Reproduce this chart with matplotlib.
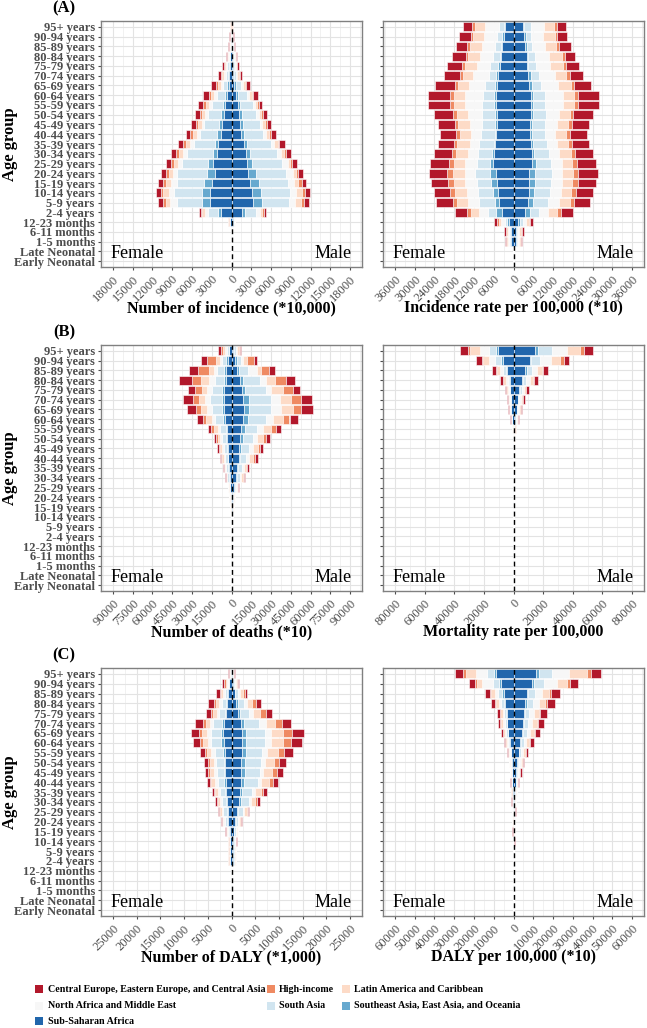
import numpy as np
import matplotlib.pyplot as plt
from matplotlib.patches import Rectangle

plt.rcParams['font.family'] = ['Liberation Serif', 'DejaVu Serif']

ages = ['95+ years', '90-94 years', '85-89 years', '80-84 years', '75-79 years',
        '70-74 years', '65-69 years', '60-64 years', '55-59 years', '50-54 years',
        '45-49 years', '40-44 years', '35-39 years', '30-34 years', '25-29 years',
        '20-24 years', '15-19 years', '10-14 years', '5-9 years', '2-4 years',
        '12-23 months', '6-11 months', '1-5 months', 'Late Neonatal', 'Early Neonatal']

# stacking order: from the centre line outwards
regions = ['Sub-Saharan Africa', 'Southeast Asia, East Asia, and Oceania', 'South Asia',
           'North Africa and Middle East', 'Latin America and Caribbean', 'High-income',
           'Central Europe, Eastern Europe, and Central Asia']
colors = ['#2166AC', '#67A9CF', '#D1E5F0', '#F7F7F7', '#FDDBC7', '#EF8A62', '#B2182B']

# ---- (A) number of incidence (*10,000) ----
inc_num_f = [[40, 20, 40, 20, 20, 20, 40], [60, 20, 60, 40, 50, 30, 90],
             [100, 30, 90, 50, 70, 40, 120], [200, 60, 170, 80, 120, 70, 200],
             [300, 100, 280, 130, 170, 110, 280], [400, 130, 350, 200, 300, 200, 520],
             [450, 200, 600, 350, 500, 250, 800], [750, 300, 1100, 450, 500, 300, 950],
             [950, 300, 1750, 400, 500, 350, 800], [1100, 450, 1950, 450, 500, 300, 750],
             [1400, 450, 2250, 450, 550, 300, 750], [1650, 500, 2600, 500, 650, 350, 700],
             [2000, 500, 3250, 500, 700, 400, 750], [2250, 600, 3900, 600, 600, 400, 800],
             [2750, 750, 4000, 650, 650, 400, 800], [2500, 1250, 4500, 650, 650, 400, 750],
             [2900, 1250, 4100, 1000, 700, 400, 750], [3200, 1320, 4150, 760, 900, 350, 800],
             [3300, 1250, 3650, 1100, 700, 400, 750], [1600, 400, 1500, 500, 450, 200, 350],
             [200, 50, 100, 50, 40, 20, 40], [60, 15, 30, 15, 10, 10, 10],
             [20, 5, 10, 5, 4, 2, 4], [5, 1, 3, 1, 1, 1, 1], [3, 1, 2, 1, 1, 0, 1]]
inc_num_m = [[40, 20, 40, 20, 30, 20, 30], [60, 20, 60, 40, 60, 30, 80],
             [120, 30, 100, 60, 90, 50, 150], [180, 60, 160, 80, 130, 70, 180],
             [250, 80, 220, 100, 170, 90, 200], [300, 120, 300, 150, 230, 120, 300],
             [400, 250, 750, 350, 350, 150, 500], [750, 250, 1350, 350, 350, 200, 800],
             [1050, 300, 1900, 300, 350, 200, 600], [1150, 400, 2200, 400, 400, 200, 650],
             [1250, 500, 2500, 400, 450, 250, 700], [1450, 500, 2800, 500, 500, 300, 750],
             [1850, 500, 3650, 500, 500, 250, 800], [2150, 600, 4100, 650, 400, 350, 800],
             [2350, 800, 4500, 850, 350, 400, 700], [2500, 1250, 4500, 1100, 500, 300, 650],
             [2850, 1300, 4350, 1000, 650, 500, 600], [3100, 1400, 4300, 1000, 850, 500, 750],
             [3250, 1400, 4000, 1050, 850, 400, 750], [1650, 400, 1700, 500, 400, 250, 400],
             [250, 60, 120, 50, 50, 20, 50], [60, 15, 30, 15, 10, 10, 10],
             [20, 5, 10, 5, 4, 2, 4], [5, 1, 3, 1, 1, 1, 1], [3, 1, 2, 1, 1, 0, 1]]

# ---- (A) incidence rate per 100,000 (*10) ----
inc_rate_f = [[2700, 300, 1400, 4300, 2900, 1000, 2800], [3000, 400, 1500, 4100, 3200, 800, 3400],
              [3400, 500, 1700, 3900, 3700, 800, 3300], [3700, 500, 2000, 4000, 3600, 700, 4200],
              [4000, 700, 2300, 4200, 3500, 800, 4800], [4600, 600, 2200, 4800, 3000, 1000, 5000],
              [4900, 800, 3000, 4700, 3500, 800, 6000], [5200, 700, 3500, 5300, 3500, 1200, 6600],
              [5200, 700, 3700, 5100, 3500, 1200, 6600], [5000, 700, 3900, 4100, 3500, 1200, 5600],
              [5000, 500, 4200, 3500, 3500, 1000, 5200], [5200, 500, 4300, 3000, 3200, 1200, 5000],
              [5500, 500, 4400, 2800, 3800, 1200, 4800], [5900, 600, 4200, 3000, 3700, 1300, 5300],
              [6200, 1000, 4000, 3500, 3500, 1500, 5500], [5200, 1800, 4700, 3000, 3800, 1700, 5300],
              [5000, 1700, 4500, 3500, 3500, 1700, 5100], [4700, 1500, 4700, 3300, 3500, 1500, 4800],
              [4400, 1300, 4700, 3300, 3500, 1200, 5000], [3600, 1600, 2500, 2700, 2600, 1200, 3700],
              [1400, 600, 700, 1000, 800, 400, 1000], [700, 300, 400, 400, 400, 200, 600],
              [700, 300, 400, 400, 300, 100, 400], [60, 20, 30, 30, 30, 10, 40],
              [40, 10, 20, 20, 20, 10, 30]]
inc_rate_m = [[2800, 500, 2000, 4000, 3000, 1000, 2700], [3300, 500, 1500, 3800, 3500, 700, 3000],
              [3500, 500, 1700, 4000, 3300, 800, 3500], [4000, 500, 2100, 4200, 4000, 800, 3000],
              [4000, 500, 2200, 4500, 3800, 800, 4000], [4500, 700, 2500, 4800, 3500, 1000, 4000],
              [4800, 800, 2800, 5200, 3700, 1000, 5300], [5200, 800, 3500, 5500, 3500, 1200, 6300],
              [5200, 800, 3500, 5500, 3500, 1200, 6300], [5200, 800, 3800, 4000, 3200, 1200, 5800],
              [5000, 700, 4000, 3500, 3200, 1200, 5200], [5000, 500, 4200, 3000, 3200, 1200, 5200],
              [5300, 600, 4400, 2800, 3500, 1200, 5200], [5500, 800, 4500, 3000, 3500, 1400, 5500],
              [5500, 1200, 4700, 3200, 3300, 1500, 5700], [4800, 1800, 5000, 3000, 3500, 1600, 5800],
              [4800, 1800, 4800, 3200, 3300, 1600, 5500], [4700, 1600, 4700, 3300, 3200, 1500, 5000],
              [4500, 1400, 4700, 3300, 3300, 1300, 4800], [3500, 1600, 2600, 2700, 2800, 1200, 3600],
              [1500, 600, 700, 1000, 800, 400, 1000], [700, 300, 400, 400, 500, 200, 600],
              [700, 300, 400, 400, 300, 100, 400], [60, 20, 30, 30, 30, 10, 40],
              [40, 10, 20, 20, 20, 10, 30]]

# ---- (B) number of deaths (*10) ----
death_num_f = [[1750, 500, 1250, 1250, 2000, 1250, 2250], [3000, 1000, 3000, 2000, 2500, 7000, 4500],
               [4000, 1500, 5500, 2500, 3750, 8000, 7000], [4500, 1500, 6250, 5000, 5750, 6750, 10000],
               [5500, 1750, 7500, 3750, 4250, 5000, 5000], [5500, 1750, 8750, 3750, 5000, 4500, 7500],
               [5500, 1750, 7500, 3750, 5000, 3750, 6250], [5000, 1500, 5750, 2500, 4250, 2750, 4250],
               [3500, 1000, 4000, 2000, 3000, 2000, 2500], [3250, 750, 3000, 1500, 2000, 1000, 1500],
               [2750, 750, 2500, 1250, 1500, 1000, 1250], [2500, 500, 2000, 1000, 1250, 750, 1000],
               [2000, 500, 1500, 750, 750, 500, 750], [1500, 500, 1250, 500, 500, 250, 500],
               [1000, 250, 750, 250, 250, 250, 250], [625, 125, 500, 125, 250, 125, 250],
               [300, 80, 200, 80, 100, 60, 100], [150, 40, 100, 40, 60, 30, 60],
               [120, 30, 80, 30, 40, 20, 50], [120, 30, 80, 30, 40, 20, 50],
               [40, 10, 25, 10, 15, 5, 15], [30, 10, 20, 10, 10, 5, 10],
               [20, 5, 15, 5, 10, 5, 10], [15, 5, 10, 5, 5, 5, 5], [15, 5, 10, 5, 5, 5, 5]]
death_num_m = [[1500, 500, 1500, 1000, 1000, 1000, 750], [3000, 1000, 3250, 1750, 3000, 5000, 2000],
               [4500, 1500, 6750, 6250, 3750, 5750, 4250], [6500, 2000, 13000, 5000, 6250, 8250, 7500],
               [7750, 2500, 16250, 3750, 8750, 7500, 5750], [9000, 4500, 16750, 6750, 8250, 7500, 8250],
               [9500, 4000, 16750, 7500, 8750, 6250, 8750], [8500, 4250, 13250, 5500, 7500, 5000, 6750],
               [7250, 3000, 9250, 4500, 6250, 3250, 4250], [6500, 2000, 7500, 3000, 5000, 2000, 3000],
               [6000, 1500, 6000, 2500, 4000, 1500, 2500], [5500, 1250, 4500, 2000, 3000, 1250, 2250],
               [4250, 1000, 3000, 1250, 1750, 750, 1500], [3500, 750, 2250, 1000, 1250, 500, 1000],
               [2000, 500, 1250, 500, 500, 250, 500], [1250, 250, 500, 250, 250, 250, 250],
               [750, 250, 375, 125, 250, 125, 125], [400, 100, 200, 60, 100, 50, 90],
               [300, 80, 150, 50, 70, 40, 60], [300, 80, 150, 50, 70, 40, 60],
               [50, 15, 30, 10, 15, 5, 15], [40, 10, 20, 10, 10, 5, 10],
               [30, 10, 15, 5, 10, 5, 10], [20, 5, 10, 5, 5, 5, 5], [20, 5, 10, 5, 5, 5, 5]]

# ---- (B) mortality rate per 100,000 ----
death_rate_f = [[10575, 1125, 4500, 6300, 6750, 1575, 5175], [7200, 1125, 4050, 3825, 4050, 1125, 4050],
                [4050, 900, 1800, 2250, 2250, 675, 2250], [2475, 450, 900, 1350, 1575, 450, 1800],
                [2025, 225, 675, 675, 900, 225, 900], [1575, 225, 450, 675, 675, 225, 675],
                [1350, 225, 450, 450, 450, 225, 675], [790, 110, 225, 225, 340, 110, 450],
                [380, 70, 110, 110, 160, 70, 225], [225, 40, 70, 70, 90, 30, 140],
                [150, 30, 45, 45, 60, 20, 100], [110, 20, 35, 35, 45, 15, 80],
                [80, 15, 25, 25, 30, 10, 50], [55, 10, 20, 15, 20, 8, 30],
                [40, 8, 15, 10, 15, 5, 20], [30, 5, 10, 8, 10, 4, 15],
                [25, 5, 8, 5, 8, 3, 10], [20, 4, 6, 4, 6, 2, 8],
                [20, 4, 6, 4, 6, 2, 8], [20, 4, 6, 4, 6, 2, 8],
                [15, 3, 5, 3, 4, 2, 5], [15, 3, 5, 3, 4, 2, 5],
                [15, 3, 5, 3, 4, 2, 5], [15, 3, 5, 3, 4, 2, 5], [15, 3, 5, 3, 4, 2, 5]]
death_rate_m = [[14625, 1575, 9675, 10125, 9000, 2700, 5850], [10800, 900, 5850, 7650, 6300, 2250, 3825],
                [7875, 900, 3375, 3375, 3375, 900, 3600], [5625, 675, 2250, 2250, 2250, 675, 2700],
                [3600, 450, 1350, 1350, 1350, 450, 1800], [2700, 340, 900, 900, 1125, 340, 1240],
                [2025, 225, 675, 675, 900, 225, 1010], [1125, 225, 450, 450, 560, 110, 560],
                [560, 110, 225, 225, 225, 70, 270], [300, 60, 110, 110, 120, 40, 160],
                [225, 45, 80, 80, 90, 30, 120], [150, 30, 55, 55, 60, 20, 80],
                [110, 20, 40, 40, 45, 15, 60], [75, 15, 25, 25, 30, 10, 45],
                [50, 10, 20, 15, 20, 8, 30], [35, 7, 15, 10, 12, 5, 20],
                [30, 5, 10, 8, 10, 4, 15], [25, 5, 8, 5, 8, 3, 10],
                [25, 5, 8, 5, 8, 3, 10], [25, 5, 8, 5, 8, 3, 10],
                [15, 3, 5, 3, 4, 2, 5], [15, 3, 5, 3, 4, 2, 5],
                [15, 3, 5, 3, 4, 2, 5], [15, 3, 5, 3, 4, 2, 5], [15, 3, 5, 3, 4, 2, 5]]

# ---- (C) number of DALY (*1,000) ----
daly_num_f = [[175, 35, 70, 70, 105, 105, 210], [455, 70, 210, 210, 280, 280, 490],
              [770, 140, 490, 350, 420, 350, 700], [1050, 210, 840, 490, 700, 490, 1260],
              [1120, 280, 1190, 560, 700, 560, 1050], [1540, 560, 1750, 700, 840, 700, 1540],
              [1750, 560, 2100, 700, 1050, 700, 1610], [1610, 560, 2100, 700, 1050, 700, 1400],
              [1400, 420, 1750, 700, 840, 560, 910], [1330, 350, 1540, 560, 840, 420, 700],
              [1330, 280, 1540, 560, 840, 420, 560], [1260, 280, 1400, 560, 770, 350, 490],
              [1120, 210, 1120, 490, 560, 280, 350], [980, 210, 840, 420, 490, 210, 280],
              [840, 210, 700, 350, 350, 140, 210], [700, 175, 560, 280, 280, 105, 140],
              [420, 140, 280, 140, 210, 70, 70], [245, 70, 140, 70, 105, 35, 35],
              [245, 70, 140, 70, 105, 35, 35], [245, 70, 140, 70, 105, 35, 35],
              [25, 5, 15, 5, 10, 3, 5], [25, 5, 15, 5, 10, 3, 5],
              [25, 5, 15, 5, 10, 3, 5], [25, 5, 15, 5, 10, 3, 5], [25, 5, 15, 5, 10, 3, 5]]
daly_num_m = [[210, 35, 70, 105, 105, 105, 140], [420, 70, 210, 210, 280, 210, 280],
              [700, 140, 560, 420, 560, 420, 560], [1050, 280, 1260, 700, 980, 840, 1050],
              [1400, 420, 1960, 840, 1400, 1260, 1190], [1960, 700, 3150, 1400, 1960, 1540, 1750],
              [2310, 840, 3850, 1400, 2450, 1960, 2450], [2310, 840, 3850, 1400, 2450, 1750, 2310],
              [2240, 840, 3360, 1050, 2240, 1400, 1890], [2100, 700, 3360, 840, 1960, 1120, 1400],
              [2100, 700, 3150, 700, 1960, 980, 1190], [2100, 630, 2800, 700, 1750, 840, 1050],
              [1750, 490, 2100, 560, 1260, 560, 700], [1540, 420, 1750, 420, 840, 490, 560],
              [1120, 280, 1050, 280, 490, 280, 280], [700, 210, 560, 140, 280, 140, 140],
              [490, 140, 350, 140, 175, 70, 105], [420, 140, 280, 70, 105, 35, 70],
              [350, 140, 245, 70, 105, 35, 35], [350, 140, 245, 70, 105, 35, 35],
              [25, 5, 15, 5, 10, 3, 5], [25, 5, 15, 5, 10, 3, 5],
              [25, 5, 15, 5, 10, 3, 5], [25, 5, 15, 5, 10, 3, 5], [25, 5, 15, 5, 10, 3, 5]]

# ---- (C) DALY per 100,000 (*10) ----
daly_rate_f = [[9010, 680, 3570, 5780, 4760, 1700, 4250], [6290, 850, 3060, 5780, 2720, 680, 3060],
               [4930, 680, 2040, 1700, 2040, 510, 2550], [4250, 510, 1360, 1360, 1530, 340, 2210],
               [3230, 340, 1020, 850, 1190, 340, 1530], [3060, 340, 1020, 850, 1020, 340, 1190],
               [2550, 340, 850, 680, 850, 255, 850], [1870, 255, 680, 510, 680, 170, 680],
               [1275, 170, 425, 340, 510, 170, 510], [935, 170, 340, 255, 340, 85, 340],
               [765, 85, 255, 170, 255, 85, 255], [610, 70, 200, 140, 200, 70, 230],
               [480, 55, 160, 110, 160, 55, 170], [410, 50, 135, 95, 135, 45, 150],
               [340, 40, 110, 80, 110, 40, 130], [270, 35, 90, 60, 90, 30, 105],
               [200, 25, 70, 45, 70, 25, 75], [135, 15, 45, 30, 45, 15, 55],
               [100, 12, 35, 25, 35, 12, 35], [100, 12, 35, 25, 35, 12, 35],
               [35, 5, 10, 8, 10, 4, 13], [35, 5, 10, 8, 10, 4, 13],
               [35, 5, 10, 8, 10, 4, 13], [35, 5, 10, 8, 10, 4, 13], [35, 5, 10, 8, 10, 4, 13]]
daly_rate_m = [[11560, 1190, 6800, 8500, 9350, 2040, 4760], [9350, 850, 5100, 6800, 5100, 1360, 4080],
               [6800, 680, 3400, 3400, 3740, 850, 4760], [5950, 680, 3060, 3060, 3400, 680, 3910],
               [5100, 510, 2380, 2380, 2720, 510, 3400], [4760, 510, 2210, 2040, 2380, 510, 2890],
               [4250, 510, 1870, 1700, 2040, 340, 2550], [3400, 340, 1360, 1360, 1530, 340, 1785],
               [2550, 340, 1020, 1020, 1020, 255, 1360], [1870, 255, 765, 680, 850, 170, 935],
               [1360, 170, 595, 510, 680, 170, 680], [1020, 170, 425, 340, 425, 85, 510],
               [680, 85, 340, 255, 255, 85, 255], [475, 60, 235, 175, 175, 55, 185],
               [360, 45, 175, 130, 130, 40, 140], [300, 35, 145, 110, 110, 35, 115],
               [240, 30, 115, 85, 85, 30, 95], [180, 20, 85, 65, 65, 20, 75],
               [120, 15, 60, 40, 40, 15, 50], [120, 15, 60, 40, 40, 15, 50],
               [35, 5, 10, 8, 10, 4, 13], [35, 5, 10, 8, 10, 4, 13],
               [35, 5, 10, 8, 10, 4, 13], [35, 5, 10, 8, 10, 4, 13], [35, 5, 10, 8, 10, 4, 13]]

W, H = 647, 1028
fig = plt.figure(figsize=(W / 100, H / 100), dpi=100)


def box(x0, y0, x1, y1):
    return [x0 / W, 1 - y1 / H, (x1 - x0) / W, (y1 - y0) / H]


def pyramid(ax, fem, mal, top, step, xlabel, show_y):
    fem = np.array(fem, float)
    mal = np.array(mal, float)
    y = np.arange(len(ages))
    lim = top * 1.1
    lf = np.zeros(len(ages))
    lm = np.zeros(len(ages))
    for k in range(len(regions)):
        ax.barh(y, -fem[:, k], left=-lf, height=0.9, color=colors[k],
                edgecolor='white', linewidth=0.4, zorder=2)
        ax.barh(y, mal[:, k], left=lm, height=0.9, color=colors[k],
                edgecolor='white', linewidth=0.4, zorder=2)
        lf += fem[:, k]
        lm += mal[:, k]
    ax.axvline(0, color='black', linestyle=(0, (3.5, 2.5)), linewidth=1.0, zorder=5)
    ax.set_xlim(-lim, lim)
    ax.set_ylim(len(ages) - 0.4, -0.6)
    major = np.arange(-top, top + 1, step)
    minor = np.arange(-top - step / 2, top + step, step)
    minor = minor[np.abs(minor) <= lim]
    ax.set_xticks(major)
    ax.set_xticks(minor, minor=True)
    ax.set_yticks(y)
    ax.tick_params(axis='both', which='major', length=2.5, color='#4d4d4d', pad=2,
                   labelcolor='#4d4d4d', labelsize=9)
    ax.tick_params(axis='x', which='minor', length=0)
    ax.set_xticklabels([str(int(abs(v))) for v in major], rotation=45,
                       ha='right', va='top', rotation_mode='anchor')
    if show_y:
        ax.set_yticklabels(ages)
        for t in ax.get_yticklabels():
            t.set_fontweight('bold')
    else:
        ax.set_yticklabels([])
    ax.grid(which='major', color='#e3e3e3', linewidth=0.8, zorder=0)
    ax.grid(which='minor', axis='x', color='#ececec', linewidth=0.5, zorder=0)
    ax.set_axisbelow(True)
    for s in ax.spines.values():
        s.set_color('#808080')
        s.set_linewidth(1.0)
    ax.text(0.035, 0.035, 'Female', transform=ax.transAxes, fontsize=13,
            ha='left', va='baseline', zorder=6)
    ax.text(0.96, 0.035, 'Male', transform=ax.transAxes, fontsize=13,
            ha='right', va='baseline', zorder=6)
    ax.text(0.5, -0.167, xlabel, transform=ax.transAxes, fontsize=11.5,
            fontweight='bold', ha='center', va='center')


rows = [(21, 267, '(A)'), (345, 591, '(B)'), (668, 916, '(C)')]
panels = [
    (inc_num_f, inc_num_m, 18000, 3000, 'Number of incidence (*10,000)',
     inc_rate_f, inc_rate_m, 36000, 6000, 'Incidence rate per 100,000 (*10)'),
    (death_num_f, death_num_m, 90000, 15000, 'Number of deaths (*10)',
     death_rate_f, death_rate_m, 80000, 20000, 'Mortality rate per 100,000'),
    (daly_num_f, daly_num_m, 25000, 5000, 'Number of DALY (*1,000)',
     daly_rate_f, daly_rate_m, 60000, 10000, 'DALY per 100,000 (*10)'),
]

for (y0, y1, tag), p in zip(rows, panels):
    axl = fig.add_axes(box(101, y0, 362, y1))
    pyramid(axl, p[0], p[1], p[2], p[3], p[4], True)
    axr = fig.add_axes(box(383, y0, 644, y1))
    pyramid(axr, p[5], p[6], p[7], p[8], p[9], False)
    fig.text(10 / W, 1 - (y0 + y1) / 2 / H, 'Age group', rotation=90, fontsize=12,
             fontweight='bold', ha='center', va='center')
    fig.text(64 / W, 1 - (y0 - 12.5) / H, tag, fontsize=12, fontweight='bold',
             ha='center', va='center')

# legend, laid out in rows like the original
leg = [(6, 35, 989), (5, 266.5, 989), (4, 341.5, 989),
       (3, 35, 1005.5), (2, 266.5, 1005.5), (1, 341.5, 1005.5),
       (0, 35, 1021)]
for k, lx, ly in leg:
    fig.patches.append(Rectangle((lx / W, 1 - (ly + 4) / H), 8 / W, 8 / H,
                                 transform=fig.transFigure, facecolor=colors[k],
                                 edgecolor='none'))
    fig.text((lx + 12.5) / W, 1 - ly / H, regions[k], fontsize=7.2,
             fontweight='bold', ha='left', va='center')

fig.savefig('out.png', dpi=100)
